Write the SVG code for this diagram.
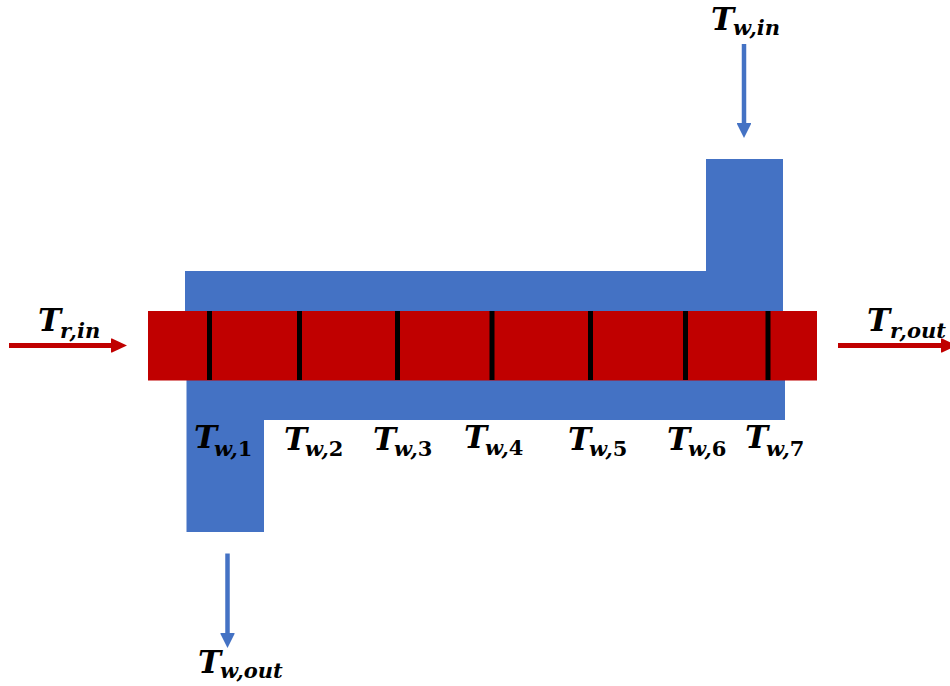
<svg xmlns="http://www.w3.org/2000/svg" width="950" height="686" viewBox="0 0 950 686">
<style>
.w{fill:#4472C4}
.r{fill:#C00000}
.tick{stroke:#000;stroke-width:5}
.t{font-family:"DejaVu Serif","Liberation Serif",serif;font-weight:bold;font-style:italic;fill:#000;font-size:31px}
.s{font-size:21px}
.n{font-style:normal}
.ab{stroke:#4472C4;stroke-width:4.5;fill:none}
.ar{stroke:#C00000;stroke-width:5;fill:none}
</style>
<defs>
<marker id="mb" markerUnits="userSpaceOnUse" markerWidth="16" markerHeight="16" refX="2" refY="7.500" orient="auto"><path d="M0 0.500H1L15 7.500L1 14.500H0Z" fill="#4472C4"/></marker>
<marker id="mr" markerUnits="userSpaceOnUse" markerWidth="17" markerHeight="16" refX="2" refY="7.500" orient="auto"><path d="M0 0.500H1L16 7.500L1 14.500H0Z" fill="#C00000"/></marker>
</defs>
<rect width="950" height="686" fill="#fff"/>
<g id="water-upper"><path class="w" d="M185 311V271H706V159H783V311Z"/></g>
<g id="water-lower"><path class="w" d="M186.500 380H785V420H264V532H186.500Z"/></g>
<g id="reactor">
<rect class="r" x="148" y="311" width="669" height="69.500"/>
<path class="tick" d="M209.500 311V380M299.500 311V380M397.500 311V380M492 311V380M590.500 311V380M685.500 311V380M768 311V380"/>
</g>
<g id="connectors">
<path class="ar" d="M9 345.500H113" marker-end="url(#mr)"/>
<path class="ar" d="M838 345.500H943" marker-end="url(#mr)"/>
<path class="ab" d="M744 44V125" marker-end="url(#mb)"/>
<path class="ab" d="M227.500 553.500V635" marker-end="url(#mb)"/>
</g>
<g id="label-tw-in"><text class="t" x="711" y="30">T<tspan class="s" dx="-1" dy="5">w,in</tspan></text></g>
<g id="label-tr-in"><text class="t" x="38" y="331">T<tspan class="s" dx="-1" dy="7">r,in</tspan></text></g>
<g id="label-tr-out"><text class="t" x="867" y="331">T<tspan class="s" dy="7">r,out</tspan></text></g>
<g id="label-tw-1"><text class="t" x="194" y="448">T<tspan class="s" dx="-3" dy="8">w,<tspan class="n">1</tspan></tspan></text></g>
<g id="label-tw-2"><text class="t" x="284" y="450">T<tspan class="s" dx="-2" dy="6">w,<tspan class="n">2</tspan></tspan></text></g>
<g id="label-tw-3"><text class="t" x="373" y="450">T<tspan class="s" dx="-2" dy="6">w,<tspan class="n">3</tspan></tspan></text></g>
<g id="label-tw-4"><text class="t" x="464" y="448">T<tspan class="s" dx="-2" dy="7">w,<tspan class="n">4</tspan></tspan></text></g>
<g id="label-tw-5"><text class="t" x="568" y="450">T<tspan class="s" dx="-2" dy="6">w,<tspan class="n">5</tspan></tspan></text></g>
<g id="label-tw-6"><text class="t" x="667" y="450">T<tspan class="s" dx="-2" dy="6">w,<tspan class="n">6</tspan></tspan></text></g>
<g id="label-tw-7"><text class="t" x="745" y="448">T<tspan class="s" dx="-2" dy="8">w,<tspan class="n">7</tspan></tspan></text></g>
<g id="label-tw-out"><text class="t" x="198" y="673">T<tspan class="s" dx="-1" dy="5">w,out</tspan></text></g>
</svg>
